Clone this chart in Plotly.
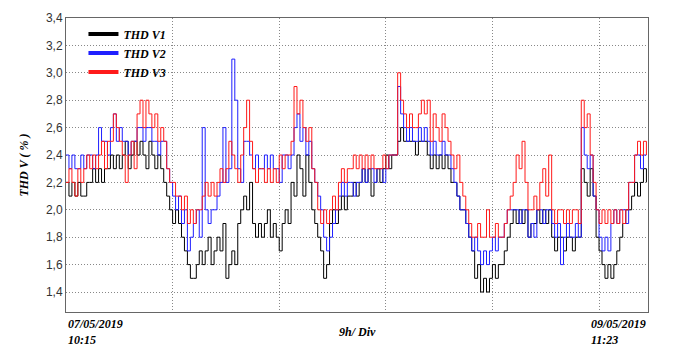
import plotly.graph_objects as go
import pandas as pd

start_time = "2019-05-07 10:15"
end_time = "2019-05-09 11:23"
step_minutes = 15

thd_v1 = [2.2,2.1,2.2,2.1,2.2,2.1,2.1,2.2,
          2.2,2.3,2.2,
          2.3,2.2,2.3,2.3,
          2.4,2.3,2.4,2.3,
          2.4,2.5,2.3,2.4,2.5,
          2.4,2.5,2.4,2.3,2.5,2.4,
          2.3,2.4,2.3,2.2,
          2.1,2.0,
          1.9,2.0,1.9,1.8,
          1.7,1.6,
          1.5,1.5,1.6,
          1.7,1.6,1.7,
          1.8,1.6,1.7,1.8,1.7,1.9,
          1.5,
          1.6,1.7,1.6,1.9,
          2.0,2.1,2.0,2.2,1.9,
          1.8,1.9,1.8,1.9,2.0,1.8,1.9,1.8,
          1.7,
          1.9,2.0,1.9,
          2.2,2.1,2.4,2.3,
          2.1,2.4,2.2,
          2.0,1.9,1.8,
          1.7,1.5,1.6,
          1.9,2.0,1.9,
          2.0,2.1,2.0,2.1,2.1,
          2.2,2.1,
          2.2,2.3,2.2,2.3,2.1,
          2.2,2.3,2.2,2.3,2.4,
          2.3,2.4,2.4,2.5,
          2.6,2.5,2.5,
          2.5,2.5,2.4,2.5,2.5,2.5,2.4,
          2.3,2.4,2.3,2.4,2.3,2.4,2.3,
          2.2,2.2,
          2.1,2.0,2.0,
          1.9,1.8,
          1.7,1.5,1.6,
          1.4,1.5,1.4,
          1.5,1.6,1.5,1.6,1.6,1.7,
          1.8,1.9,
          2.0,1.9,2.0,1.9,2.0,
          1.8,1.9,1.9,
          2.0,1.9,2.0,1.9,2.0,
          1.8,1.7,1.8,1.8,1.7,1.8,1.8,1.7,1.8,1.8,
          2.3,
          2.2,2.1,2.3,2.1,
          1.8,1.7,
          1.6,1.5,1.6,1.5,
          1.6,1.7,1.8,
          1.9,2.0,2.0,
          2.1,2.2,2.1,
          2.2,2.3,2.2]

thd_v2 = [2.4,2.3,2.4,2.3,2.3,2.4,2.3,
          2.4,2.4,2.3,2.4,
          2.6,2.5,2.5,2.4,
          2.6,2.7,2.5,2.6,
          2.5,2.5,2.4,2.5,2.5,
          2.6,2.6,2.5,2.6,2.6,2.5,
          2.5,2.4,2.5,2.5,
          2.3,2.2,
          2.1,2.0,2.1,
          1.9,2.0,
          1.7,1.8,
          1.9,2.0,1.8,
          2.6,
          2.0,1.9,2.0,2.0,
          2.1,2.2,2.6,
          2.2,2.3,
          3.1,
          2.8,2.3,
          2.2,
          2.5,2.5,2.4,
          2.3,2.4,2.3,2.3,2.4,2.3,2.4,2.3,2.3,
          2.2,
          2.4,2.4,2.3,2.4,
          2.6,2.7,2.5,
          2.6,2.4,2.5,
          2.3,2.2,2.1,
          2.0,1.8,1.7,1.8,
          1.9,2.0,
          2.1,2.2,2.1,2.2,2.2,
          2.1,2.2,2.2,
          2.3,2.2,2.3,2.3,2.2,2.3,2.3,2.2,2.3,
          2.4,2.4,2.4,2.9,
          2.7,2.6,
          2.5,2.6,2.5,2.5,2.6,2.5,2.6,2.5,
          2.4,2.5,2.4,2.4,2.5,2.4,2.4,
          2.3,2.2,
          2.1,2.0,2.0,
          1.9,1.8,
          1.7,1.8,1.7,
          1.6,1.7,1.6,1.7,
          1.8,1.7,1.8,1.8,1.9,
          2.0,2.0,
          2.0,2.0,1.9,2.0,2.0,
          1.8,1.9,1.8,
          2.0,2.0,1.9,2.0,2.0,
          1.9,1.8,1.9,1.6,1.8,1.9,1.8,1.8,1.9,1.8,
          2.6,
          2.4,2.3,2.4,
          2.1,2.0,1.8,
          1.7,1.8,1.7,1.9,
          2.0,1.9,2.0,2.0,1.9,
          2.2,2.2,
          2.4,2.4,2.3,2.4,2.4]

thd_v3 = [2.2,2.3,2.2,2.1,2.3,2.2,2.3,
          2.4,2.3,2.4,2.3,
          2.4,2.5,2.3,2.5,2.5,
          2.7,2.6,2.5,
          2.4,2.2,2.4,2.5,2.3,
          2.7,2.8,2.6,2.8,2.7,2.6,
          2.7,2.5,2.6,2.5,
          2.3,2.2,
          2.2,2.1,2.1,
          2.0,2.1,1.9,
          2.0,1.9,2.0,
          2.0,2.1,2.2,
          2.1,2.2,2.1,
          2.2,2.3,2.2,
          2.3,2.5,
          2.4,2.3,
          2.2,2.4,
          2.6,2.8,2.5,
          2.3,2.2,2.3,2.3,2.2,2.3,2.2,2.3,2.2,
          2.4,2.3,2.4,2.4,2.5,
          2.9,2.7,2.8,
          2.6,2.5,2.6,
          2.3,2.2,2.0,
          1.9,2.0,1.9,2.0,
          2.1,2.0,
          2.2,2.3,2.2,2.3,2.3,
          2.4,2.3,2.4,
          2.3,2.4,2.3,2.4,
          2.3,2.3,2.3,2.4,2.3,
          2.4,2.4,2.4,3.0,
          2.8,2.7,
          2.6,2.7,2.6,2.6,
          2.7,2.8,2.7,2.8,
          2.5,2.7,2.6,2.5,2.7,2.6,
          2.5,2.4,
          2.3,2.4,2.2,2.1,
          2.0,1.9,
          1.8,1.8,1.9,1.8,1.8,2.0,1.8,1.8,1.9,1.8,1.8,1.9,
          2.0,2.1,
          2.2,2.4,2.3,2.5,2.2,
          2.0,2.0,2.1,2.0,
          2.2,2.3,2.1,2.4,
          2.0,1.9,2.0,2.0,1.9,2.0,1.9,2.0,2.0,1.9,
          2.8,2.6,2.7,
          2.4,2.2,2.0,
          1.9,2.0,1.9,2.0,1.9,
          2.0,1.9,2.0,1.9,2.0,
          2.2,2.2,
          2.4,2.5,2.4,2.5,2.4]

series_names = ["THD V1", "THD V2", "THD V3"]
series_colors = ["#000000", "#1f1fff", "#ff1a1a"]
y_ticks = [1.4, 1.6, 1.8, 2.0, 2.2, 2.4, 2.6, 2.8, 3.0, 3.2, 3.4]
start_label = "07/05/2019<br>10:15"
end_label = "09/05/2019<br>11:23"
div_label = "9h/ Div"
y_title = "THD V ( % )"

serif = "Liberation Serif, Times New Roman, serif"
sans = "Liberation Sans, Arial, sans-serif"

fig = go.Figure()
for name, vals, col in zip(series_names, [thd_v1, thd_v2, thd_v3], series_colors):
    times = pd.date_range(start=start_time, periods=len(vals), freq=f"{step_minutes}min")
    fig.add_trace(go.Scatter(x=times, y=vals, mode="lines", line=dict(color=col, width=1, shape="hv"),
                             showlegend=False, hoverinfo="skip"))
# legend entries with thick sample lines
for name, col in zip(series_names, series_colors):
    fig.add_trace(go.Scatter(x=[None], y=[None], mode="lines", line=dict(color=col, width=4),
                             name=f"<b><i>{name}</i></b>"))

grid_dash = "1px,2px"
fig.update_layout(
    width=697, height=354,
    margin=dict(l=66, r=49, t=18, b=42, autoexpand=False),
    paper_bgcolor="white", plot_bgcolor="white",
    separators=",.",
    showlegend=True,
    legend=dict(x=0.03, y=0.995, xanchor="left", yanchor="top", bgcolor="rgba(0,0,0,0)",
                font=dict(family=serif, size=12, color="black"), tracegroupgap=0,
                itemwidth=30),
    xaxis=dict(range=[start_time, end_time], tick0=start_time, dtick=9 * 3600 * 1000,
               showticklabels=False, ticks="", showgrid=True, gridcolor="#888888", griddash=grid_dash,
               gridwidth=1, showline=True, linecolor="#666666", linewidth=1, mirror=True,
               zeroline=False, automargin=False),
    yaxis=dict(range=[1.254, 3.4], tickvals=y_ticks, tickformat=".1f", showgrid=True,
               gridcolor="#888888", griddash=grid_dash, gridwidth=1, showline=True, linecolor="#666666",
               linewidth=1, mirror=True, ticks="", zeroline=False, automargin=False,
               tickfont=dict(family=sans, size=12, color="#333333"),
               title=dict(text=f"<b><i>{y_title}</i></b>", font=dict(family=serif, size=12, color="black"),
                          standoff=14)),
)

fig.add_annotation(x=0, y=0, xref="paper", yref="paper", xanchor="left", yanchor="top", yshift=-3,
                   align="left", showarrow=False, text=f"<b><i>{start_label}</i></b>",
                   font=dict(family=serif, size=12, color="black"))
fig.add_annotation(x=1, y=0, xref="paper", yref="paper", xanchor="right", yanchor="top", yshift=-3,
                   align="left", showarrow=False, text=f"<b><i>{end_label}</i></b>",
                   font=dict(family=serif, size=12, color="black"))
fig.add_annotation(x=0.5, y=0, xref="paper", yref="paper", xanchor="center", yanchor="top", yshift=-11,
                   showarrow=False, text=f"<b><i>{div_label}</i></b>",
                   font=dict(family=serif, size=12, color="black"))

fig.write_html("out.html", config={"displayModeBar": False},
               post_script="document.body.style.margin='0px';")
